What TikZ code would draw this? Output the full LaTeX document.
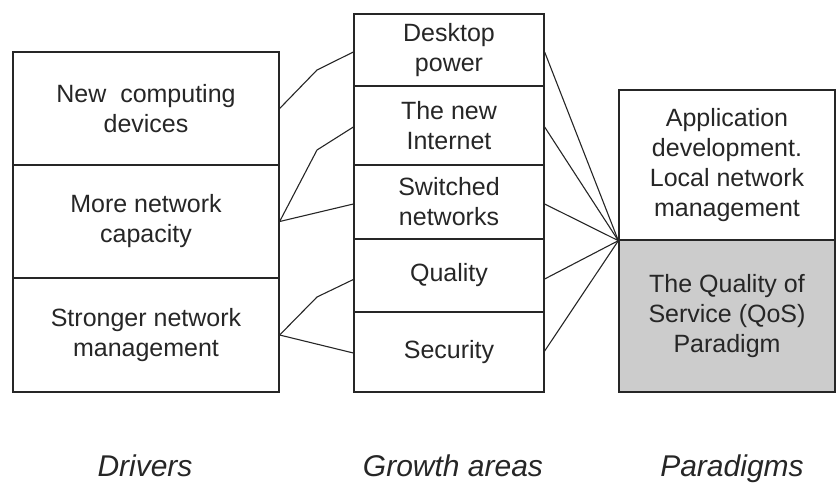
\documentclass[tikz,border=0pt]{standalone}
\usepackage{fontspec}
\setmainfont{Liberation Sans}
\definecolor{txt}{HTML}{262626}
\definecolor{qos}{HTML}{CCCCCC}
\begin{document}
\begin{tikzpicture}[x=1pt,y=-1pt,
  box/.style={draw=black!85, line width=1.3pt, inner sep=0pt, align=center,
    text=txt, font=\fontsize{25}{30}\selectfont},
  lbl/.style={text=txt, font=\fontsize{30}{34}\selectfont\itshape, anchor=base},
  conn/.style={draw=black!85, line width=1.1pt}]
\useasboundingbox (0,0) rectangle (836,483);
% Drivers
\node[box, minimum width=266pt, minimum height=113pt] (l1) at (146,108.5) {New\ \ computing\\devices};
\node[box, minimum width=266pt, minimum height=113pt] (l2) at (146,221.5) {More network\\capacity};
\node[box, minimum width=266pt, minimum height=114pt] (l3) at (146,335) {Stronger network\\management};
% Growth areas
\node[box, minimum width=190pt, minimum height=72pt] (m1) at (449,50) {Desktop\\power};
\node[box, minimum width=190pt, minimum height=79pt] (m2) at (449,125.5) {The new\\Internet};
\node[box, minimum width=190pt, minimum height=74pt] (m3) at (449,202) {Switched\\networks};
\node[box, minimum width=190pt, minimum height=73pt] (m4) at (449,275.5) {Quality};
\node[box, minimum width=190pt, minimum height=80pt] (m5) at (449,352) {Security};
% Paradigms
\node[box, minimum width=216pt, minimum height=150pt] (r1) at (727,165) {Application\\development.\\Local network\\management};
\node[box, fill=qos, minimum width=216pt, minimum height=152pt] (r2) at (727,316) {The Quality of\\Service (QoS)\\Paradigm};
% bend points
\coordinate (b1) at (317,70);
\coordinate (b2) at (317,150);
\coordinate (b3) at (317,297);
\coordinate (hub) at (r1.south west);
% left to middle
\draw[conn] (l1.east) -- (b1) -- ([yshift=-2pt]m1.west);
\draw[conn] (l2.east) -- (b2) -- ([yshift=-1.5pt]m2.west);
\draw[conn] (l2.east) -- ([yshift=-2pt]m3.west);
\draw[conn] (l3.east) -- (b3) -- ([yshift=-4pt]m4.west);
\draw[conn] (l3.east) -- ([yshift=-1pt]m5.west);
% middle to right
\draw[conn] ([yshift=-2pt]m1.east) -- (hub);
\draw[conn] ([yshift=-1.5pt]m2.east) -- (hub);
\draw[conn] ([yshift=-2pt]m3.east) -- (hub);
\draw[conn] ([yshift=-3.5pt]m4.east) -- (hub);
\draw[conn] ([yshift=1pt]m5.east) -- (hub);
% column labels
\node[lbl] (d) at (145,476) {Drivers};
\node[lbl] (g) at (453,476) {Growth areas};
\node[lbl] (p) at (732,476) {Paradigms};
\end{tikzpicture}
\end{document}
